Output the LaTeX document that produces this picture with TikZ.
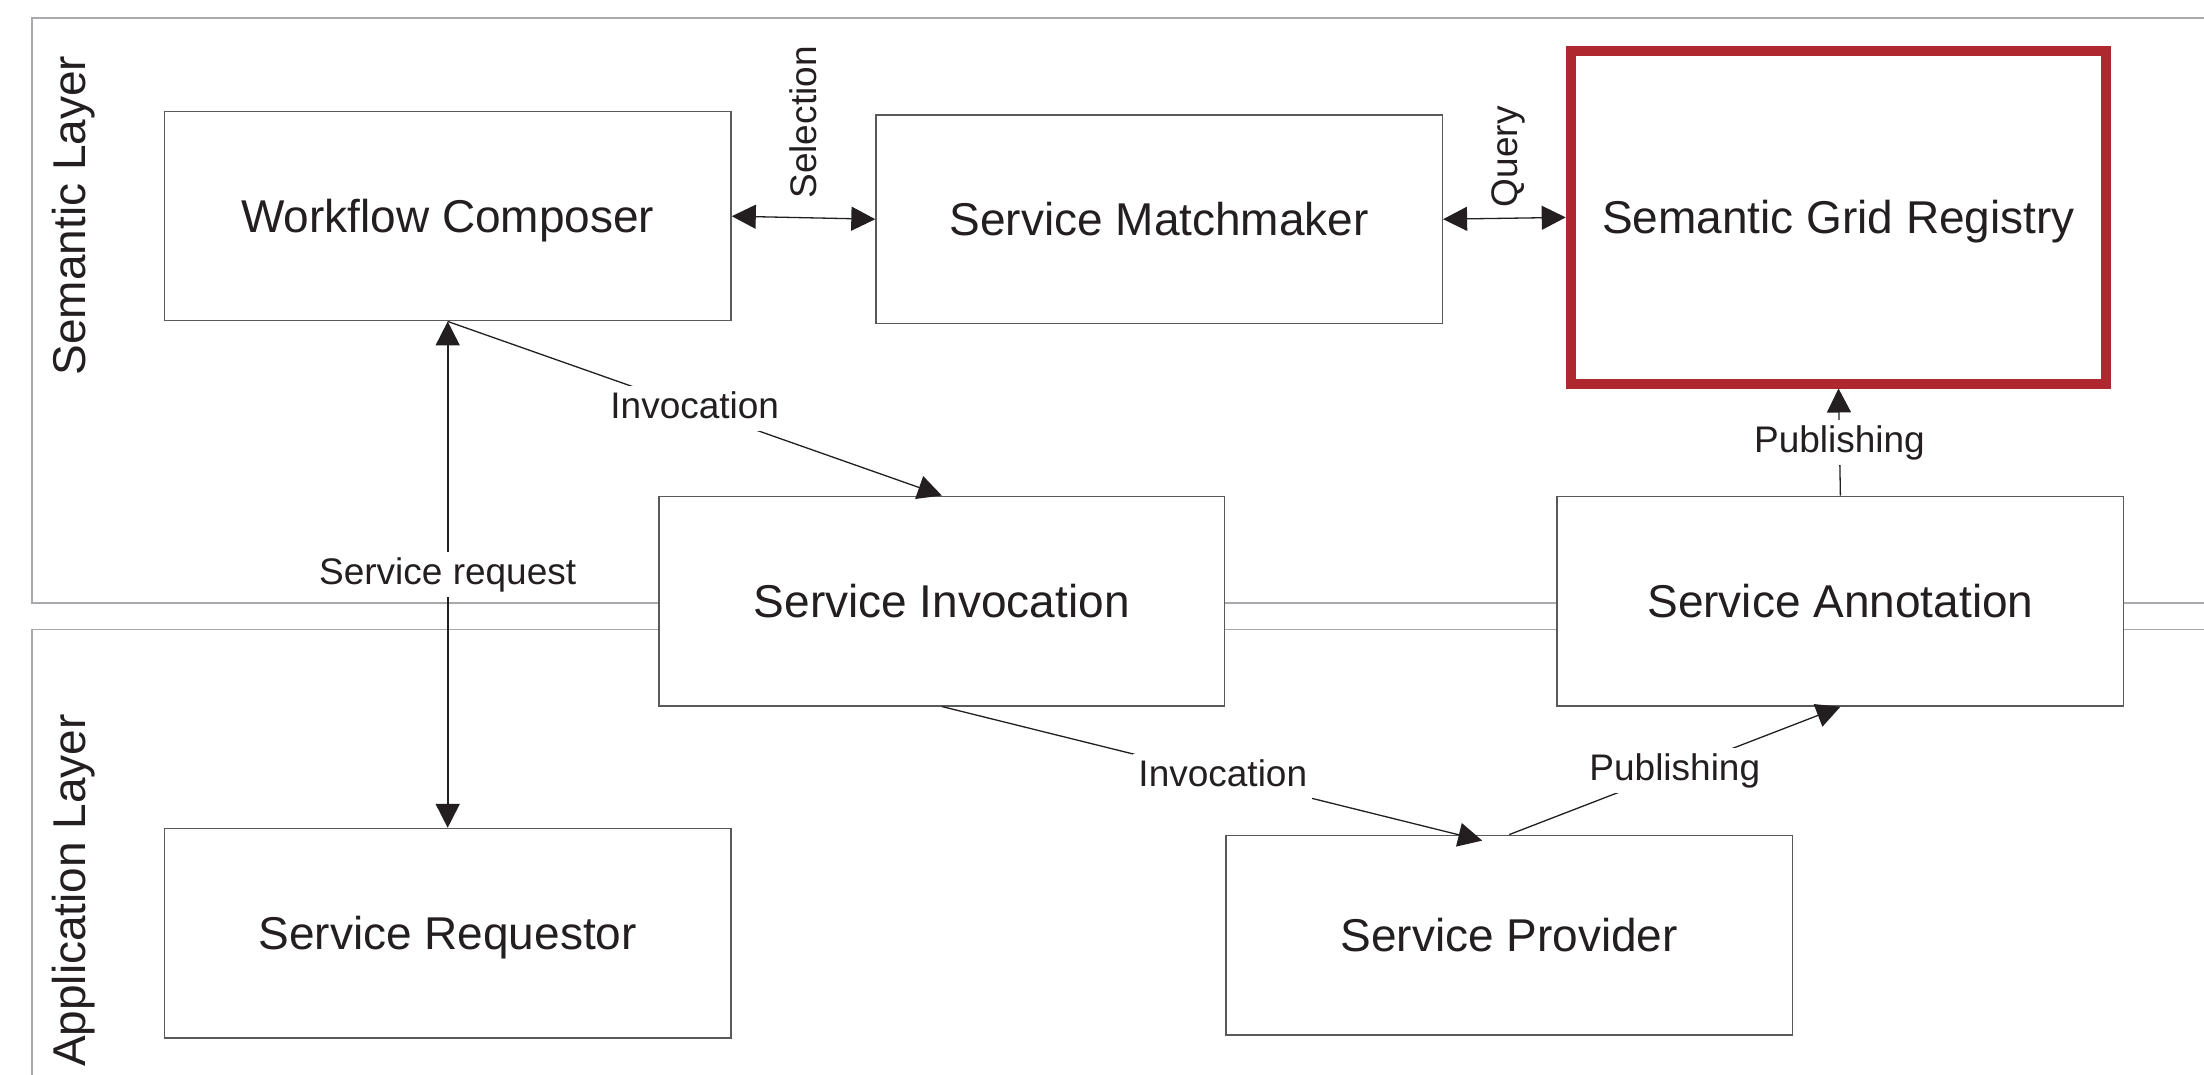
\documentclass[tikz,border=0pt]{standalone}
\usepackage{fontspec}
\setmainfont{Liberation Sans}
\usetikzlibrary{arrows.meta,calc}
\definecolor{ink}{RGB}{35,31,32}
\definecolor{boxline}{RGB}{88,89,91}
\definecolor{layerline}{RGB}{167,169,172}
\definecolor{regred}{RGB}{175,39,47}
\begin{document}
\begin{tikzpicture}[x=1pt,y=-1pt,
  >={Triangle[length=24pt,width=24pt]},
  box/.style={draw=boxline, line width=1.5pt, fill=white, text=ink,
    font=\fontsize{46}{55}\selectfont, text height=33pt, text depth=0pt, inner sep=0pt},
  regbox/.style={box, draw=regred, line width=10pt},
  layer/.style={draw=layerline, line width=1.6pt},
  layerlbl/.style={text=ink, font=\fontsize{46}{55}\selectfont, text height=33pt, text depth=0pt, inner sep=0pt, rotate=90},
  con/.style={draw=ink, line width=1.3pt},
  conthick/.style={draw=ink, line width=1.8pt},
  elbl/.style={fill=white, text=ink, font=\fontsize{37}{44}\selectfont, text height=27.5pt, text depth=7.5pt, inner sep=5pt},
  rlbl/.style={text=ink, font=\fontsize{37}{44}\selectfont, text height=26.6pt, text depth=0pt, inner sep=0pt, rotate=90, anchor=west}
]
\useasboundingbox (0,0) rectangle (2204,1075);
\clip (0,0) rectangle (2204,1075);
\fill[white] (0,0) rectangle (2204,1075);

% layers
\draw[layer] (2215,18.3) -- (32,18.3) -- (32,603) -- (2215,603);
\draw[layer] (2215,629.5) -- (32,629.5) -- (32,1090);
\node[layerlbl] (semlbl) at (69,215.5) {Semantic Layer};
\node[layerlbl] (applbl) at (69,890.5) {Application Layer};

% boxes
\node[box, minimum width=566.7pt, minimum height=209pt] (WC) at (447.7,216.2) {Workflow Composer};
\node[box, minimum width=566.3pt, minimum height=208.3pt] (SM) at (1159.2,219.2) {Service Matchmaker};
\node[regbox, minimum width=535.6pt, minimum height=332.2pt] (SGR) at (1838.5,217.4) {Semantic Grid Registry};
\node[box, minimum width=565.5pt, minimum height=209.5pt] (SI) at (941.8,601) {Service Invocation};
\node[box, minimum width=566.5pt, minimum height=209.6pt] (SA) at (1840.4,601.2) {Service Annotation};
\node[box, minimum width=566.7pt, minimum height=209.3pt] (SR) at (447.7,933.2) {Service Requestor};
\node[box, minimum width=566.4pt, minimum height=199.7pt] (SP) at (1509.2,935.2) {Service Provider};

% connectors
\draw[con, <->] (WC.east) -- coordinate[midway] (selm) (SM.west);
\node[rlbl] (sellbl) at ([yshift=19pt]selm) {Selection};
\draw[con, <->] (SM.east) -- coordinate[midway] (qm) (SGR.west);
\node[rlbl] (qlbl) at ([yshift=11pt]qm) {Query};

\draw[conthick, <->] (WC.south) -- node[elbl] (srlbl) {Service request} (SR.north);
\draw[con, ->] (WC.south) -- node[elbl] (inv1) {Invocation} (SI.north);
\coordinate (sptarget) at ($(SP.north)+(-27,6)$);
\draw[con, ->] (SI.south) -- node[elbl, pos=0.52] (inv2) {Invocation} (sptarget);
\draw[con, ->] (SP.north) -- node[elbl] (pub1) {Publishing} (SA.south);
\draw[con, ->] (SA.north) -- node[elbl] (pub2) {Publishing} (SGR.south);
\end{tikzpicture}
\end{document}
